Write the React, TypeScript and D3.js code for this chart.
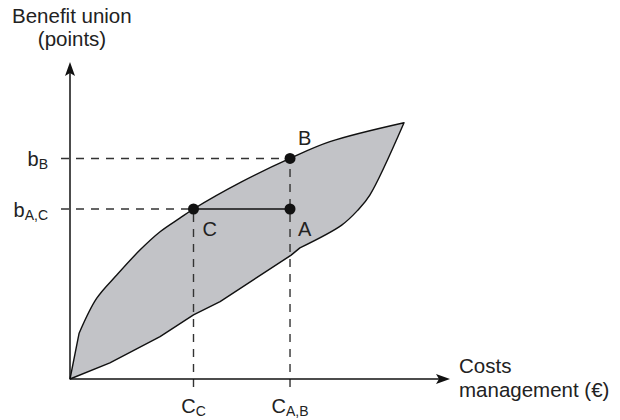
import React, { useEffect, useRef } from "react";
import * as d3 from "d3";

// region edge, in chart units (x: cost 0-100, y: benefit 0-100)
const upperEdge: [number, number][] = [
  [0, 0], [2.4, 14.5], [7.0, 25.5], [12.3, 32.9], [18.4, 40.8],
  [23.7, 46.6], [28.9, 50.9], [32.5, 53.8], [45.0, 62.3], [57.9, 69.8],
  [68.4, 75.1], [87.9, 81.1],
];
const rightEdge: [number, number][] = [
  [87.9, 81.1], [78.9, 58.2], [75.8, 53.5], [71.5, 48.7], [60.5, 41.5],
];
const lowerEdge: [number, number][] = [
  [60.5, 41.5], [58.2, 39.2], [39.5, 24.5], [32.5, 20.3], [23.7, 13.4], [10.5, 5.1], [0, 0],
];

// alternatives
const pointNames = ["A", "B", "C"];
const pointX = [57.9, 57.9, 32.5];
const pointY = [53.8, 69.8, 53.8];

// marked levels on the axes
const yTickValues = [69.8, 53.8];
const yTickMain = ["b", "b"];
const yTickSub = ["B", "A,C"];
const xTickValues = [32.5, 57.9];
const xTickMain = ["C", "C"];
const xTickSub = ["C", "A,B"];

const FONT = "'Liberation Sans', Arial, sans-serif";

const App = () => {
  const svgRef = useRef<SVGSVGElement>(null);

  useEffect(() => {
    const svg = d3.select(svgRef.current);
    svg.selectAll("*").remove();

    const x = d3.scaleLinear().domain([0, 100]).range([70, 450]);
    const y = d3.scaleLinear().domain([0, 100]).range([379, 63]);

    // shaded region: first two upper points straight, rest smooth
    const smooth = d3.line<[number, number]>()
      .x((d) => x(d[0])).y((d) => y(d[1]))
      .curve(d3.curveCatmullRom.alpha(0.5));
    const straight = d3.line<[number, number]>()
      .x((d) => x(d[0])).y((d) => y(d[1]));
    const d =
      straight(upperEdge.slice(0, 2)) +
      (smooth(upperEdge.slice(1)) || "").replace(/^M/, "L") +
      (smooth(rightEdge) || "").replace(/^M/, "L") +
      (straight(lowerEdge) || "").replace(/^M/, "L") +
      "Z";
    svg.append("path")
      .attr("d", d)
      .attr("fill", "#c2c3c7")
      .attr("stroke", "#111")
      .attr("stroke-width", 1.4)
      .attr("stroke-linejoin", "round");

    // dashed guides
    const dash = "8,7";
    yTickValues.forEach((v, i) => {
      const endX = i === 0 ? x(pointX[1]) : x(pointX[2]);
      svg.append("line")
        .attr("x1", x(0) - 9).attr("x2", endX)
        .attr("y1", y(v)).attr("y2", y(v))
        .attr("stroke", "#333").attr("stroke-width", 1.4)
        .attr("stroke-dasharray", dash);
    });
    xTickValues.forEach((v, i) => {
      const endY = i === 0 ? y(pointY[2]) : y(pointY[1]);
      svg.append("line")
        .attr("x1", x(v)).attr("x2", x(v))
        .attr("y1", y(0) + 8).attr("y2", endY)
        .attr("stroke", "#333").attr("stroke-width", 1.4)
        .attr("stroke-dasharray", dash);
    });

    // C - A segment
    svg.append("line")
      .attr("x1", x(pointX[2])).attr("x2", x(pointX[0]))
      .attr("y1", y(pointY[2])).attr("y2", y(pointY[0]))
      .attr("stroke", "#111").attr("stroke-width", 1.5);

    // axes with arrow heads
    svg.append("line")
      .attr("x1", x(0)).attr("x2", x(0))
      .attr("y1", y(0)).attr("y2", y(100) + 6)
      .attr("stroke", "#111").attr("stroke-width", 1.5);
    svg.append("line")
      .attr("x1", x(0)).attr("x2", x(100) - 6)
      .attr("y1", y(0)).attr("y2", y(0))
      .attr("stroke", "#111").attr("stroke-width", 1.5);

    const ax = x(0), ay = y(100);
    svg.append("path")
      .attr("d", `M${ax},${ay - 1} L${ax + 5},${ay + 13} L${ax},${ay + 10} L${ax - 5},${ay + 13} Z`)
      .attr("fill", "#111");
    const bx = x(100), by = y(0);
    svg.append("path")
      .attr("d", `M${bx},${by} L${bx - 14},${by - 5} L${bx - 11},${by} L${bx - 14},${by + 5} Z`)
      .attr("fill", "#111");

    // points
    svg.selectAll("circle.pt")
      .data(pointNames)
      .enter()
      .append("circle")
      .attr("class", "pt")
      .attr("cx", (_, i) => x(pointX[i]))
      .attr("cy", (_, i) => y(pointY[i]))
      .attr("r", 5.5)
      .attr("fill", "#111");

    const labelOffset: Record<string, [number, number]> = {
      A: [8, 27],
      B: [8, -13],
      C: [9, 27],
    };
    svg.selectAll("text.pt")
      .data(pointNames)
      .enter()
      .append("text")
      .attr("class", "pt")
      .attr("x", (d, i) => x(pointX[i]) + labelOffset[d][0])
      .attr("y", (d, i) => y(pointY[i]) + labelOffset[d][1])
      .style("font-family", FONT)
      .style("font-size", "20px")
      .attr("fill", "#222")
      .text((d) => d);

    // axis tick labels with subscripts
    yTickValues.forEach((v, i) => {
      const t = svg.append("text")
        .attr("x", x(0) - 22)
        .attr("y", y(v) + 8)
        .attr("text-anchor", "end")
        .style("font-family", FONT)
        .attr("fill", "#222");
      t.append("tspan").style("font-size", "20px").text(yTickMain[i]);
      t.append("tspan").attr("dy", 3).style("font-size", "14px").text(yTickSub[i]);
    });
    xTickValues.forEach((v, i) => {
      const t = svg.append("text")
        .attr("x", x(v))
        .attr("y", y(0) + 34)
        .attr("text-anchor", "middle")
        .style("font-family", FONT)
        .attr("fill", "#222");
      t.append("tspan").style("font-size", "20px").text(xTickMain[i]);
      t.append("tspan").attr("dy", 3).style("font-size", "14px").text(xTickSub[i]);
    });

    // axis titles
    const title = (lines: string[], tx: number, ty: number, anchor: string) => {
      const t = svg.append("text")
        .attr("text-anchor", anchor)
        .style("font-family", FONT)
        .style("font-size", "20.5px")
        .attr("fill", "#222");
      lines.forEach((s, k) => {
        t.append("tspan").attr("x", tx).attr("y", ty + k * 24).text(s);
      });
    };
    title(["Benefit union"], 12, 23, "start");
    title(["(points)"], 72, 46, "middle");
    title(["Costs", "management (€)"], 459, 373, "start");
  }, []);

  return (
    <svg
      ref={svgRef}
      width={620}
      height={420}
      style={{ position: "absolute", left: 0, top: 0, background: "#fff" }}
    />
  );
};

export default App;
